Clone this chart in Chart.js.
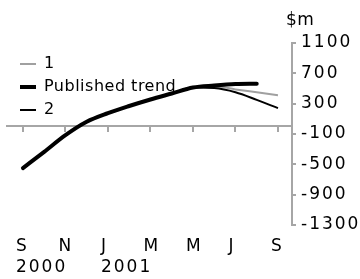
<!DOCTYPE html>
<html>
<head>
<meta charset="utf-8">
<script src="https://cdn.jsdelivr.net/npm/chart.js@4/dist/chart.umd.min.js"></script>
<style>
  html, body { margin: 0; padding: 0; background: #fff; }
  #wrap { width: 360px; height: 279px; position: relative; }
</style>
</head>
<body>
<div id="wrap"><canvas id="c" width="360" height="279"></canvas></div>
<script>
// ---- data ----
const months = ['Sep 2000','Oct 2000','Nov 2000','Dec 2000','Jan 2001','Feb 2001','Mar 2001',
                'Apr 2001','May 2001','Jun 2001','Jul 2001','Aug 2001','Sep 2001'];
const publishedTrend = [-549, -335, -115, 62, 175, 269, 355, 434, 513, 540, 559, 563, null];
const series1 = [-549, -335, -115, 62, 175, 269, 355, 434, 513, 530, 488, 450, 412];
const series2 = [-549, -335, -115, 62, 175, 269, 355, 434, 513, 505, 450, 350, 242];
const monthTicks = ['S', 'N', 'J', 'M', 'M', 'J', 'S'];
const yearTicks = ['2000', '', '2001', '', '', '', ''];
const yTicks = [-1300, -900, -500, -100, 300, 700, 1100];
const unitLabel = '$m';

const AXIS = '#a6a6a6';
const FONT = 'DejaVu Sans';

const toPoints = arr => arr.map((v, i) => ({ x: i, y: v }));
const monthTickValues = monthTicks.map((_, i) => ({ value: i * 2 }));

const spacingPlugin = {
  id: 'spacing',
  beforeUpdate(chart) { chart.ctx.letterSpacing = '1px'; },
  beforeDraw(chart) { chart.ctx.letterSpacing = '0.5px'; },
  afterDatasetsDraw(chart) { chart.ctx.letterSpacing = '2px'; },
  afterLayout(chart) {
    // place the library legend inside the plot, at its upper left
    const lg = chart.legend;
    if (!lg) return;
    const h = lg.bottom - lg.top;
    lg.top = chart.chartArea.top + 6;
    lg.bottom = lg.top + h;
    const w = lg.right - lg.left;
    lg.left = chart.chartArea.left + 6;
    lg.right = lg.left + w;
  },
  afterDraw(chart) {
    // unit caption above the value axis
    const ctx = chart.ctx;
    const ys = chart.scales.y;
    ctx.save();
    ctx.letterSpacing = '0.5px';
    ctx.font = '17px "' + FONT + '"';
    ctx.fillStyle = '#000';
    ctx.textAlign = 'left';
    ctx.textBaseline = 'middle';
    ctx.fillText(unitLabel, ys.left - 6, chart.chartArea.top - 22);
    ctx.restore();
  }
};

new Chart(document.getElementById('c'), {
  type: 'line',
  data: {
    datasets: [
      { label: '1', data: toPoints(series1), borderColor: '#a0a0a0', borderWidth: 2,
        pointRadius: 0, cubicInterpolationMode: 'monotone', order: 2, fill: false },
      { label: 'Published trend', data: toPoints(publishedTrend), borderColor: '#000', borderWidth: 4,
        borderCapStyle: 'round', pointRadius: 0, cubicInterpolationMode: 'monotone', order: 0, fill: false },
      { label: '2', data: toPoints(series2), borderColor: '#000', borderWidth: 2,
        pointRadius: 0, cubicInterpolationMode: 'monotone', order: 1, fill: false }
    ]
  },
  options: {
    responsive: false,
    animation: false,
    layout: { padding: { left: 7, right: 0, top: 43, bottom: 0 } },
    plugins: {
      tooltip: { enabled: false },
      title: { display: false },
      legend: {
        display: true,
        position: 'chartArea',
        align: 'start',
        labels: {
          usePointStyle: true,
          pointStyle: 'line',
          pointStyleWidth: 16,
          padding: 7,
          color: '#000',
          font: { family: FONT, size: 16 },
          sort: (a, b) => a.datasetIndex - b.datasetIndex
        }
      }
    },
    scales: {
      x: {
        type: 'linear',
        position: { y: 0 },
        min: -0.75, max: 12.66,
        afterBuildTicks: (s) => { s.ticks = monthTickValues.map(t => ({ value: t.value })); },
        ticks: { display: false, autoSkip: false },
        grid: { display: true, drawOnChartArea: false, drawTicks: true, tickLength: 5,
                color: AXIS, lineWidth: 2 },
        border: { display: true, color: AXIS, width: 2 }
      },
      x2: {
        type: 'linear',
        position: 'bottom',
        min: -0.75, max: 12.66,
        afterBuildTicks: (s) => { s.ticks = monthTickValues.map(t => ({ value: t.value })); },
        afterFit: (s) => { s.height = 54; },
        ticks: {
          autoSkip: false, maxRotation: 0, minRotation: 0,
          align: 'start', labelOffset: -7, padding: 11.5, color: '#000',
          font: { family: FONT, size: 17, lineHeight: 1.235 },
          z: 1,
          callback: (v) => {
            const i = Math.round(v / 2);
            if (i < 0 || i >= monthTicks.length) return '';
            return yearTicks[i] ? [monthTicks[i], yearTicks[i]] : monthTicks[i];
          }
        },
        grid: { display: false, drawTicks: false },
        border: { display: false }
      },
      y: {
        type: 'linear',
        position: 'right',
        min: yTicks[0], max: yTicks[yTicks.length - 1],
        afterBuildTicks: (s) => { s.ticks = yTicks.map(v => ({ value: v })); },
        afterFit: (s) => { s.width = 68; },
        ticks: { padding: 5, color: '#000', z: 1, autoSkip: false,
                 font: { family: FONT, size: 17 },
                 callback: (v) => String(v) },
        grid: { display: true, drawOnChartArea: false, drawTicks: true, tickLength: 4,
                color: AXIS, lineWidth: 2 },
        border: { display: true, color: AXIS, width: 2 }
      }
    }
  },
  plugins: [spacingPlugin]
});
</script>
</body>
</html>
